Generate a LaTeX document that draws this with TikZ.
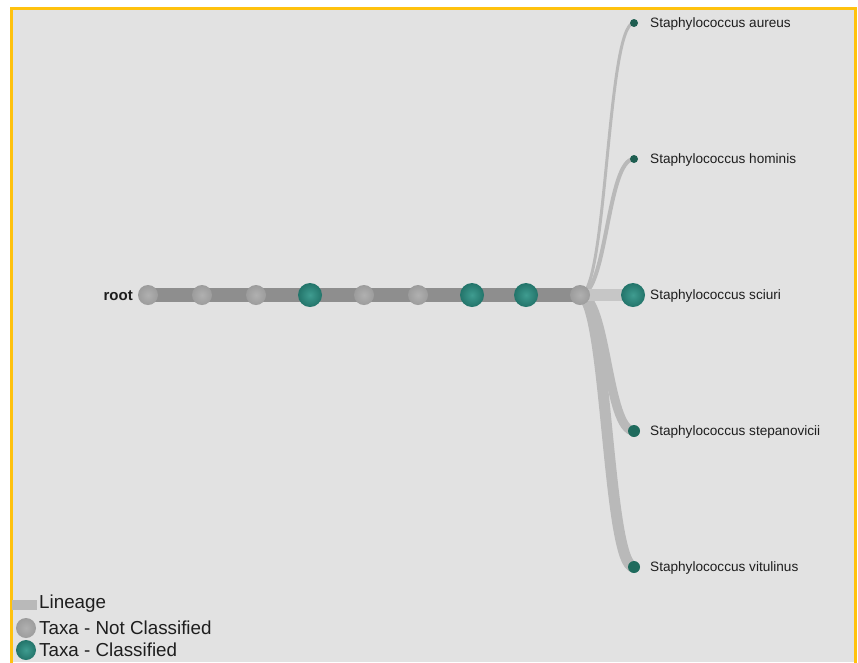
\documentclass[tikz,border=0pt]{standalone}
\usepackage{fontspec}
\setmainfont{Liberation Sans}
\definecolor{panel}{HTML}{E2E2E2}
\definecolor{frameorange}{HTML}{FFC20E}
\definecolor{trunkgray}{HTML}{8E8E8E}
\definecolor{stemgray}{HTML}{C6C6C6}
\definecolor{branchgray}{HTML}{B9B9B9}
\definecolor{nodegrayin}{HTML}{B0B0B0}
\definecolor{nodegrayout}{HTML}{9C9C9C}
\definecolor{tealin}{HTML}{3F9C90}
\definecolor{tealout}{HTML}{23746A}
\definecolor{leafteal}{HTML}{1E5E51}
\definecolor{leaftealb}{HTML}{1F6B5D}
\definecolor{labeltext}{HTML}{1E1E1E}
\pgfdeclarelayer{panellayer}
\pgfdeclarelayer{linklayer}
\pgfsetlayers{panellayer,linklayer,main}
\tikzset{
  x=1pt, y=-1pt,
  taxon/.style={circle, inner sep=0pt, minimum size=20pt, shading=radial,
    inner color=nodegrayin, outer color=nodegrayout},
  classified/.style={circle, inner sep=0pt, minimum size=24pt, shading=radial,
    inner color=tealin, outer color=tealout},
  leaf/.style={circle, inner sep=0pt, fill=#1},
  trunk/.style={draw=trunkgray, line width=14pt, line cap=butt},
  stem/.style={draw=stemgray, line width=12pt, line cap=butt},
  branch/.style={draw=branchgray, line cap=butt},
  leaflabel/.style={anchor=west, inner sep=0pt, text=labeltext,
    font=\fontsize{13.6}{16}\selectfont},
  legendlabel/.style={anchor=west, inner sep=0pt, text=labeltext,
    font=\fontsize{18.8}{22}\selectfont},
}
\begin{document}
\begin{tikzpicture}
\useasboundingbox (0,0) rectangle (858,662);

% page, panel and its frame
\begin{pgfonlayer}{panellayer}
\fill[white] (0,0) rectangle (858,662);
\fill[panel] (11,8) rectangle (855,662);
\draw[frameorange, line width=3pt] (11,663) -- (11,8) -- (855,8) -- (855,663);
\end{pgfonlayer}

% lineage nodes along the trunk
\node[taxon] (n0) at (148,295) {};
\node[taxon] (n1) at (202,295) {};
\node[taxon] (n2) at (256,295) {};
\node[classified] (n3) at (310,295) {};
\node[taxon] (n4) at (364,295) {};
\node[taxon] (n5) at (418,295) {};
\node[classified] (n6) at (472,295) {};
\node[classified] (n7) at (526,295) {};
\node[taxon] (n8) at (580,295) {};

% species leaves
\node[leaf=leafteal, minimum size=8pt] (aureus) at (634,23) {};
\node[leaf=leafteal, minimum size=8pt] (hominis) at (634,159) {};
\node[classified] (sciuri) at (633,295) {};
\node[leaf=leaftealb, minimum size=12pt] (stepanovicii) at (634,431) {};
\node[leaf=leaftealb, minimum size=12pt] (vitulinus) at (634,567) {};

% lineage links, kept beneath the nodes
\begin{pgfonlayer}{linklayer}
\draw[branch, line width=3pt] (n8.center) .. controls (607,295) and (607,23) .. (aureus.center);
\draw[branch, line width=4pt] (n8.center) .. controls (607,295) and (607,159) .. (hominis.center);
\draw[branch, line width=11pt] (n8.center) .. controls (607,295) and (607,567) .. (vitulinus.center);
\draw[branch, line width=9pt] (n8.center) .. controls (607,295) and (607,431) .. (stepanovicii.center);
\draw[stem] (n8.center) -- (sciuri.center);
\draw[trunk] (n0.center) -- (n8.center);
\end{pgfonlayer}

% labels
\node[anchor=east, inner sep=0pt, text=labeltext, font=\fontsize{15}{18}\selectfont\bfseries] (lroot) at (133,296) {root};
\node[leaflabel] (laureus) at (650,24) {Staphylococcus aureus};
\node[leaflabel] (lhominis) at (650,160) {Staphylococcus hominis};
\node[leaflabel] (lsciuri) at (650,296) {Staphylococcus sciuri};
\node[leaflabel] (lstep) at (650,432) {Staphylococcus stepanovicii};
\node[leaflabel] (lvit) at (650,568) {Staphylococcus vitulinus};

% legend
\fill[branchgray] (12,599.5) rectangle (37,609.5);
\node[taxon] (kgray) at (26,628) {};
\node[classified, minimum size=20pt] (kteal) at (26,650) {};
\node[legendlabel] (klin) at (39,604) {Lineage};
\node[legendlabel] (knot) at (39,628) {Taxa - Not Classified};
\node[legendlabel] (kcls) at (39,650) {Taxa - Classified};
\end{tikzpicture}
\end{document}
